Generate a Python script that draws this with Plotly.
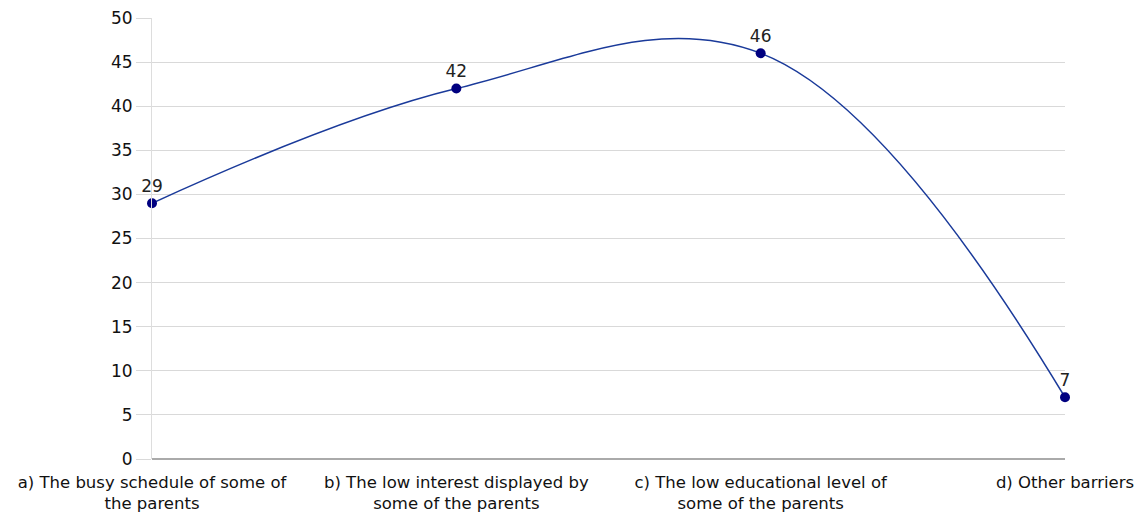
import plotly.graph_objects as go

categories = [
    "a) The busy schedule of some of<br>the parents",
    "b) The low interest displayed by<br>some of the parents",
    "c) The low educational level of<br>some of the parents",
    "d) Other barriers",
]
values = [29, 42, 46, 7]
y_ticks = [0, 5, 10, 15, 20, 25, 30, 35, 40, 45, 50]

FONT = "DejaVu Sans, Verdana, sans-serif"

fig = go.Figure()
fig.add_trace(go.Scatter(
    x=categories, y=values,
    mode="lines+markers+text",
    line=dict(color="#1a3a9a", width=1.5, shape="spline", smoothing=1.1),
    marker=dict(color="#000080", size=10),
    text=[str(v) for v in values],
    textposition="top center",
    textfont=dict(family=FONT, size=17, color="#222"),
    cliponaxis=False,
    showlegend=False,
))

fig.update_layout(
    width=1142, height=513,
    margin=dict(l=144, r=85, t=10, b=62),
    plot_bgcolor="white", paper_bgcolor="white",
    font=dict(family=FONT, size=16, color="#111"),
    xaxis=dict(
        type="category", range=[0, 3], showgrid=False,
        showline=False, ticks="", tickfont=dict(size=16.5),
        ticklabelstandoff=11, automargin=False,
        zeroline=False,
    ),
    yaxis=dict(
        range=[0, 50], tickvals=y_ticks, showgrid=True, gridcolor="#d9d9d9",
        ticks="outside", ticklen=15, tickcolor="#d9d9d9",
        tickfont=dict(size=17), ticklabeloverflow="allow", automargin=False,
        zeroline=True, zerolinecolor="#aaaaaa", zerolinewidth=1.5,
        showline=True, linecolor="#dddddd",
    ),
)
fig.write_html("out.html")
